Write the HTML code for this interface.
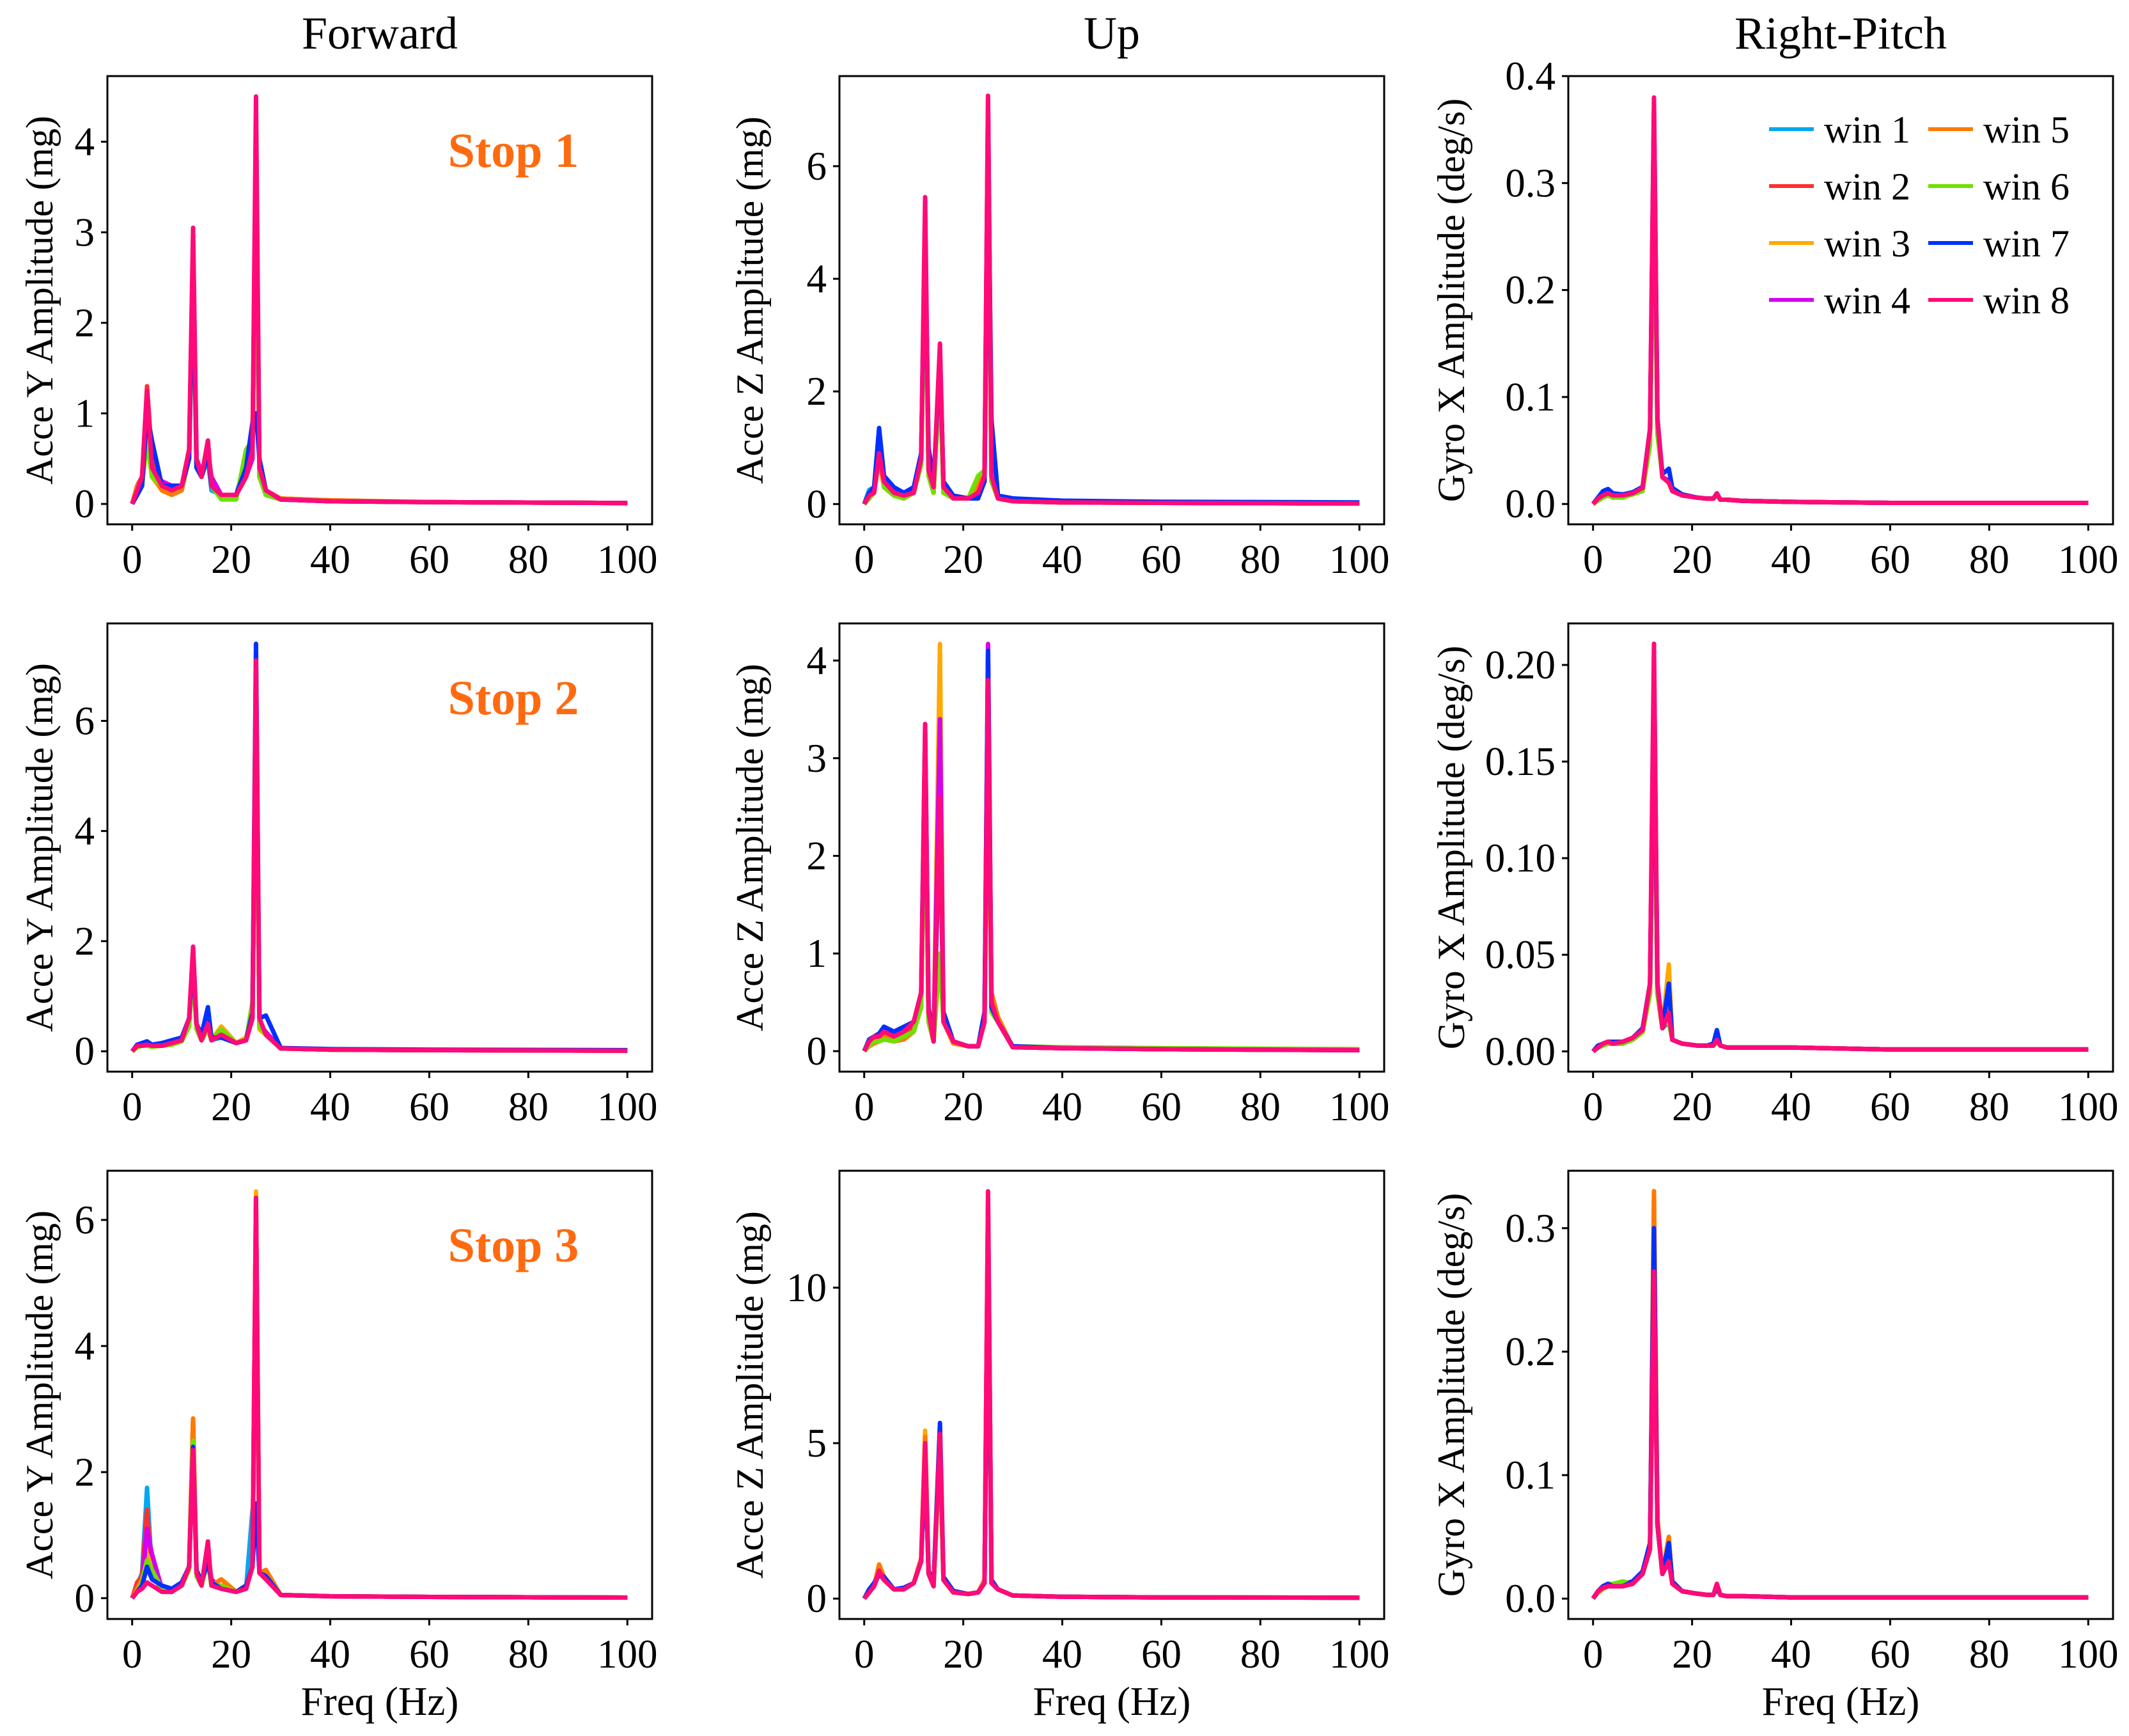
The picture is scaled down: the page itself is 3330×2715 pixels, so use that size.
<!DOCTYPE html>
<html><head><meta charset="utf-8"><style>
html,body{margin:0;padding:0;background:#fff}
svg{display:block}
text{font-family:"Liberation Serif",serif;fill:#000}
</style></head><body>
<svg id="chart" width="3330" height="2715" viewBox="0 0 3330 2715"></svg>
<script>
const freqs=[0,1,2,3,4,6,8,10,11.5,12.3,13,14,15.3,16,18,21,23,24.3,25,25.7,27,30,40,60,100];
const winLabels=["win 1","win 2","win 3","win 4","win 5","win 6","win 7","win 8"];
const winColors=["#00a8f0","#ff3030","#ffa800","#d400f0","#ff7a00","#70e000","#0030ff","#ff0a78"];
const colTitles=["Forward","Up","Right-Pitch"];
const stopLabels=["Stop 1","Stop 2","Stop 3"];
const xTicks=[0,20,40,60,80,100];
const yTicksA=[0,1,2,3,4];
const yTicksB=[0,2,4,6];
const yTicksC=[0,0.1,0.2,0.3,0.4];
const yTicksC_lbl=["0.0","0.1","0.2","0.3","0.4"];
const yTicksE=[0,1,2,3,4];
const yTicksF=[0,0.05,0.1,0.15,0.2];
const yTicksF_lbl=["0.00","0.05","0.10","0.15","0.20"];
const yTicksH=[0,5,10];
const yTicksI=[0,0.1,0.2,0.3];
const yTicksI_lbl=["0.0","0.1","0.2","0.3"];
// Panel A: Forward stop 1
const A1=[0,0.1,0.25,1.1,0.5,0.15,0.2,0.2,0.5,2.5,0.4,0.3,0.5,0.15,0.1,0.1,0.5,0.7,3.2,0.3,0.1,0.05,0.03,0.02,0.01];
const A2=[0,0.2,0.3,1.3,0.5,0.2,0.15,0.2,0.6,2.8,0.4,0.3,0.6,0.2,0.1,0.1,0.3,0.6,4.0,0.3,0.1,0.05,0.03,0.02,0.01];
const A3=[0,0.15,0.2,0.8,0.3,0.15,0.1,0.2,0.5,2.6,0.4,0.3,0.65,0.2,0.1,0.1,0.4,0.6,3.8,0.3,0.15,0.06,0.04,0.02,0.01];
const A4=[0,0.1,0.2,0.9,0.4,0.25,0.2,0.2,0.5,2.9,0.5,0.35,0.6,0.3,0.1,0.1,0.3,0.5,4.2,0.3,0.1,0.05,0.03,0.02,0.01];
const A5=[0,0.2,0.25,0.9,0.35,0.15,0.1,0.15,0.5,2.7,0.4,0.3,0.6,0.2,0.1,0.1,0.3,0.6,3.9,0.3,0.1,0.06,0.04,0.02,0.01];
const A6=[0,0.15,0.2,0.7,0.3,0.2,0.15,0.2,0.5,2.6,0.4,0.3,0.7,0.2,0.05,0.05,0.6,0.7,3.6,0.3,0.1,0.05,0.03,0.02,0.01];
const A7=[0,0.1,0.2,1.0,0.7,0.2,0.2,0.2,0.5,2.7,0.4,0.3,0.55,0.2,0.1,0.1,0.4,0.9,1.0,0.5,0.15,0.05,0.03,0.02,0.01];
const A8=[0,0.15,0.3,1.25,0.4,0.2,0.15,0.2,0.6,3.05,0.5,0.3,0.7,0.2,0.1,0.1,0.3,0.6,4.5,0.4,0.15,0.05,0.03,0.02,0.01];
// Panel B: Up stop 1
const B1=[0,0.25,0.3,1.1,0.4,0.2,0.2,0.25,0.8,4.5,0.7,0.3,2.5,0.3,0.1,0.1,0.2,0.4,6.0,0.5,0.1,0.06,0.04,0.02,0.02];
const B2=[0,0.15,0.2,1.0,0.4,0.2,0.15,0.2,0.8,5.0,0.6,0.3,2.7,0.3,0.1,0.1,0.2,0.5,6.8,0.5,0.1,0.05,0.03,0.02,0.01];
const B3=[0,0.1,0.2,1.2,0.3,0.15,0.1,0.2,0.7,4.7,0.5,0.2,2.4,0.2,0.1,0.1,0.3,0.5,6.6,0.4,0.1,0.05,0.03,0.02,0.01];
const B4=[0,0.15,0.2,0.9,0.4,0.2,0.2,0.2,0.8,5.1,0.6,0.3,2.6,0.3,0.1,0.1,0.2,0.5,7.2,0.5,0.1,0.05,0.03,0.02,0.01];
const B5=[0,0.1,0.2,0.8,0.3,0.15,0.1,0.2,0.7,4.6,0.5,0.2,2.3,0.2,0.1,0.1,0.3,0.6,6.4,0.4,0.1,0.05,0.03,0.02,0.01];
const B6=[0,0.1,0.2,1.2,0.3,0.15,0.1,0.2,0.7,4.4,0.5,0.2,2.2,0.2,0.1,0.1,0.5,0.6,6.2,0.4,0.1,0.05,0.03,0.02,0.01];
const B7=[0,0.2,0.3,1.35,0.5,0.3,0.2,0.3,0.9,4.8,1.0,0.4,2.6,0.4,0.15,0.1,0.1,0.4,6.5,1.5,0.15,0.1,0.06,0.04,0.03];
const B8=[0,0.15,0.2,0.9,0.4,0.2,0.15,0.2,0.8,5.45,0.6,0.3,2.85,0.3,0.1,0.1,0.2,0.5,7.25,0.5,0.1,0.05,0.03,0.02,0.01];
// Panel C: Right-Pitch stop 1
const C1=[0,0.006,0.01,0.012,0.008,0.008,0.01,0.015,0.06,0.33,0.07,0.025,0.02,0.012,0.008,0.006,0.005,0.005,0.008,0.004,0.004,0.003,0.002,0.001,0.001];
const C2=[0,0.005,0.008,0.01,0.007,0.008,0.01,0.014,0.065,0.35,0.07,0.025,0.022,0.012,0.008,0.006,0.005,0.005,0.009,0.004,0.004,0.003,0.002,0.001,0.001];
const C3=[0,0.004,0.006,0.008,0.007,0.007,0.009,0.013,0.06,0.32,0.075,0.025,0.02,0.012,0.008,0.006,0.005,0.005,0.008,0.004,0.004,0.003,0.002,0.001,0.001];
const C4=[0,0.005,0.008,0.01,0.008,0.008,0.01,0.015,0.07,0.36,0.08,0.025,0.022,0.012,0.008,0.006,0.005,0.005,0.01,0.004,0.004,0.003,0.002,0.001,0.001];
const C5=[0,0.004,0.007,0.009,0.007,0.007,0.009,0.013,0.06,0.34,0.07,0.025,0.02,0.012,0.008,0.006,0.005,0.005,0.008,0.004,0.004,0.003,0.002,0.001,0.001];
const C6=[0,0.003,0.006,0.008,0.006,0.006,0.009,0.012,0.055,0.31,0.065,0.025,0.02,0.012,0.008,0.006,0.005,0.005,0.008,0.004,0.004,0.003,0.002,0.001,0.001];
const C7=[0,0.006,0.012,0.014,0.01,0.009,0.011,0.016,0.07,0.37,0.08,0.028,0.033,0.015,0.009,0.006,0.005,0.005,0.01,0.004,0.004,0.003,0.002,0.001,0.001];
const C8=[0,0.005,0.008,0.01,0.008,0.008,0.01,0.015,0.07,0.38,0.08,0.025,0.02,0.012,0.008,0.006,0.005,0.005,0.01,0.004,0.004,0.003,0.002,0.001,0.001];
// Panel D: Forward stop 2
const D1=[0,0.1,0.12,0.15,0.1,0.12,0.15,0.2,0.5,1.6,0.4,0.25,0.5,0.2,0.25,0.15,0.2,0.8,6.0,0.5,0.3,0.05,0.03,0.02,0.01];
const D2=[0,0.08,0.1,0.12,0.1,0.1,0.12,0.2,0.5,1.7,0.4,0.2,0.45,0.2,0.3,0.15,0.2,0.6,6.5,0.5,0.3,0.05,0.03,0.02,0.01];
const D3=[0,0.1,0.15,0.15,0.12,0.12,0.15,0.2,0.5,1.5,0.4,0.2,0.4,0.2,0.45,0.15,0.25,0.7,6.3,0.4,0.3,0.05,0.03,0.02,0.01];
const D4=[0,0.1,0.12,0.12,0.1,0.1,0.15,0.2,0.55,1.8,0.45,0.2,0.5,0.2,0.3,0.15,0.2,0.6,6.8,0.5,0.35,0.05,0.03,0.02,0.01];
const D5=[0,0.08,0.1,0.1,0.1,0.1,0.12,0.18,0.5,1.6,0.4,0.2,0.45,0.2,0.35,0.15,0.2,0.6,6.2,0.45,0.3,0.05,0.03,0.02,0.01];
const D6=[0,0.07,0.1,0.1,0.08,0.1,0.12,0.18,0.45,1.5,0.4,0.2,0.4,0.2,0.4,0.15,0.2,0.9,6.0,0.45,0.3,0.05,0.03,0.02,0.01];
const D7=[0,0.12,0.15,0.18,0.12,0.15,0.2,0.25,0.6,1.7,0.5,0.3,0.8,0.25,0.25,0.15,0.2,0.7,7.4,0.6,0.65,0.06,0.04,0.03,0.02];
const D8=[0,0.1,0.1,0.12,0.1,0.1,0.15,0.2,0.6,1.9,0.5,0.2,0.5,0.2,0.3,0.15,0.2,0.6,7.1,0.6,0.3,0.05,0.03,0.02,0.01];
// Panel E: Up stop 2
const E1=[0,0.1,0.12,0.15,0.15,0.12,0.15,0.25,0.5,3.0,0.35,0.1,2.4,0.3,0.1,0.05,0.05,0.3,3.6,0.4,0.3,0.04,0.03,0.02,0.01];
const E2=[0,0.08,0.12,0.12,0.15,0.12,0.15,0.25,0.5,3.1,0.35,0.1,2.8,0.3,0.1,0.05,0.05,0.3,3.7,0.45,0.3,0.04,0.03,0.02,0.01];
const E3=[0,0.05,0.1,0.1,0.12,0.1,0.12,0.2,0.45,2.8,0.3,0.1,4.17,0.3,0.08,0.05,0.05,0.3,3.5,0.4,0.3,0.04,0.03,0.02,0.01];
const E4=[0,0.1,0.15,0.15,0.2,0.15,0.2,0.3,0.55,3.2,0.4,0.1,3.4,0.3,0.1,0.05,0.05,0.3,4.17,0.5,0.3,0.04,0.03,0.02,0.01];
const E5=[0,0.05,0.08,0.1,0.15,0.1,0.12,0.2,0.45,2.9,0.3,0.1,1.0,0.3,0.08,0.05,0.05,0.3,3.4,0.6,0.35,0.04,0.03,0.02,0.01];
const E6=[0,0.06,0.1,0.1,0.12,0.1,0.15,0.2,0.45,2.9,0.3,0.1,1.0,0.3,0.1,0.05,0.05,0.3,3.5,0.4,0.3,0.05,0.04,0.03,0.02];
const E7=[0,0.12,0.15,0.18,0.25,0.2,0.25,0.3,0.6,3.3,0.45,0.1,2.5,0.4,0.1,0.05,0.05,0.4,4.1,0.45,0.3,0.05,0.03,0.02,0.01];
const E8=[0,0.1,0.15,0.15,0.2,0.15,0.2,0.3,0.6,3.35,0.4,0.1,2.6,0.3,0.1,0.05,0.05,0.3,3.8,0.5,0.3,0.04,0.03,0.02,0.01];
// Panel F: Right-Pitch stop 2
const F1=[0,0.002,0.003,0.004,0.004,0.004,0.006,0.01,0.03,0.17,0.03,0.012,0.015,0.006,0.004,0.003,0.003,0.003,0.005,0.003,0.002,0.002,0.002,0.001,0.001];
const F2=[0,0.002,0.003,0.004,0.004,0.004,0.006,0.01,0.035,0.19,0.035,0.012,0.018,0.006,0.004,0.003,0.003,0.003,0.005,0.003,0.002,0.002,0.002,0.001,0.001];
const F3=[0,0.002,0.003,0.004,0.004,0.004,0.006,0.01,0.03,0.18,0.03,0.012,0.045,0.006,0.004,0.003,0.003,0.003,0.005,0.003,0.002,0.002,0.002,0.001,0.001];
const F4=[0,0.002,0.004,0.005,0.004,0.005,0.007,0.011,0.035,0.2,0.035,0.012,0.02,0.006,0.004,0.003,0.003,0.003,0.006,0.003,0.002,0.002,0.002,0.001,0.001];
const F5=[0,0.002,0.003,0.004,0.004,0.004,0.006,0.01,0.03,0.18,0.03,0.012,0.025,0.006,0.004,0.003,0.003,0.003,0.005,0.003,0.002,0.002,0.002,0.001,0.001];
const F6=[0,0.002,0.003,0.004,0.004,0.004,0.006,0.01,0.03,0.17,0.03,0.015,0.015,0.006,0.004,0.003,0.003,0.003,0.005,0.003,0.002,0.002,0.002,0.001,0.001];
const F7=[0,0.003,0.004,0.005,0.005,0.005,0.007,0.012,0.035,0.19,0.035,0.012,0.035,0.006,0.004,0.003,0.003,0.004,0.011,0.003,0.002,0.002,0.002,0.001,0.001];
const F8=[0,0.002,0.004,0.005,0.004,0.005,0.007,0.011,0.035,0.211,0.035,0.012,0.02,0.006,0.004,0.003,0.003,0.003,0.006,0.003,0.002,0.002,0.002,0.001,0.001];
// Panel G: Forward stop 3
const G1=[0,0.2,0.4,1.75,0.4,0.15,0.15,0.2,0.5,2.4,0.4,0.2,0.6,0.2,0.15,0.1,0.15,1.4,1.5,0.4,0.3,0.05,0.03,0.02,0.01];
const G2=[0,0.25,0.35,1.4,0.4,0.15,0.12,0.2,0.5,2.85,0.4,0.2,0.7,0.2,0.2,0.1,0.15,0.5,6.0,0.4,0.4,0.05,0.03,0.02,0.01];
const G3=[0,0.15,0.3,0.7,0.45,0.15,0.12,0.2,0.45,2.6,0.35,0.2,0.6,0.2,0.3,0.1,0.2,0.5,6.45,0.4,0.35,0.05,0.03,0.02,0.01];
const G4=[0,0.1,0.2,1.1,0.7,0.15,0.12,0.2,0.5,2.5,0.4,0.2,0.7,0.3,0.15,0.1,0.15,0.5,6.2,0.4,0.3,0.05,0.03,0.02,0.01];
const G5=[0,0.15,0.3,0.6,0.4,0.12,0.1,0.2,0.5,2.85,0.4,0.2,0.7,0.2,0.3,0.1,0.15,0.5,6.3,0.4,0.45,0.05,0.03,0.02,0.01];
const G6=[0,0.1,0.25,0.6,0.45,0.15,0.12,0.2,0.45,2.5,0.35,0.2,0.6,0.2,0.2,0.1,0.15,0.5,6.0,0.4,0.3,0.05,0.03,0.02,0.01];
const G7=[0,0.1,0.2,0.5,0.3,0.2,0.15,0.25,0.5,2.4,0.45,0.25,0.6,0.25,0.15,0.1,0.2,0.5,1.5,0.4,0.35,0.05,0.03,0.02,0.01];
const G8=[0,0.1,0.15,0.25,0.2,0.1,0.1,0.2,0.5,2.35,0.4,0.2,0.9,0.2,0.15,0.1,0.15,0.5,6.35,0.4,0.3,0.05,0.03,0.02,0.01];
// Panel H: Up stop 3
const H1=[0,0.3,0.5,0.8,0.6,0.3,0.3,0.5,1.2,4.5,0.8,0.4,5.0,0.6,0.2,0.15,0.2,0.5,11.5,0.5,0.3,0.1,0.06,0.04,0.03];
const H2=[0,0.2,0.4,0.9,0.6,0.3,0.3,0.5,1.2,4.8,0.8,0.4,5.0,0.6,0.2,0.15,0.2,0.5,12.0,0.5,0.3,0.1,0.06,0.04,0.03];
const H3=[0,0.2,0.4,1.0,0.7,0.3,0.3,0.5,1.2,5.4,0.8,0.4,4.8,0.6,0.2,0.15,0.2,0.6,12.5,0.6,0.3,0.1,0.06,0.04,0.03];
const H4=[0,0.2,0.4,0.8,0.6,0.3,0.3,0.5,1.2,4.7,0.8,0.4,5.2,0.6,0.2,0.15,0.2,0.5,12.6,0.5,0.3,0.1,0.06,0.04,0.03];
const H5=[0,0.2,0.4,1.1,0.7,0.3,0.3,0.5,1.3,5.2,0.9,0.4,4.9,0.6,0.2,0.15,0.2,0.6,12.8,0.6,0.3,0.1,0.06,0.04,0.03];
const H6=[0,0.2,0.4,0.9,0.6,0.3,0.3,0.5,1.2,5.0,0.8,0.4,4.8,0.6,0.2,0.15,0.2,0.5,12.2,0.5,0.3,0.1,0.06,0.04,0.03];
const H7=[0,0.3,0.5,0.8,0.7,0.3,0.35,0.5,1.2,4.4,0.9,0.5,5.65,0.7,0.25,0.15,0.2,0.5,11.8,0.6,0.3,0.1,0.06,0.04,0.03];
const H8=[0,0.2,0.4,0.9,0.6,0.3,0.3,0.5,1.2,5.0,0.8,0.4,5.3,0.6,0.2,0.15,0.2,0.5,13.1,0.5,0.3,0.1,0.06,0.04,0.03];
// Panel I: Right-Pitch stop 3
const I1=[0,0.006,0.01,0.012,0.01,0.01,0.012,0.02,0.04,0.3,0.06,0.02,0.03,0.012,0.006,0.004,0.003,0.003,0.008,0.003,0.002,0.002,0.001,0.001,0.001];
const I2=[0,0.006,0.009,0.01,0.01,0.01,0.012,0.02,0.04,0.31,0.06,0.02,0.035,0.012,0.006,0.004,0.003,0.003,0.008,0.003,0.002,0.002,0.001,0.001,0.001];
const I3=[0,0.005,0.008,0.01,0.01,0.01,0.012,0.02,0.04,0.29,0.06,0.02,0.05,0.012,0.006,0.004,0.003,0.003,0.008,0.003,0.002,0.002,0.001,0.001,0.001];
const I4=[0,0.006,0.01,0.012,0.01,0.012,0.014,0.022,0.045,0.3,0.06,0.02,0.035,0.012,0.006,0.004,0.003,0.003,0.009,0.003,0.002,0.002,0.001,0.001,0.001];
const I5=[0,0.005,0.008,0.01,0.01,0.01,0.012,0.02,0.04,0.33,0.065,0.02,0.05,0.012,0.006,0.004,0.003,0.003,0.008,0.003,0.002,0.002,0.001,0.001,0.001];
const I6=[0,0.006,0.01,0.012,0.012,0.014,0.012,0.02,0.04,0.275,0.06,0.02,0.035,0.012,0.006,0.004,0.003,0.003,0.008,0.003,0.002,0.002,0.001,0.001,0.001];
const I7=[0,0.006,0.01,0.012,0.01,0.01,0.014,0.022,0.045,0.3,0.06,0.02,0.045,0.014,0.006,0.004,0.003,0.003,0.009,0.003,0.002,0.002,0.001,0.001,0.001];
const I8=[0,0.006,0.009,0.01,0.01,0.01,0.012,0.02,0.04,0.265,0.06,0.02,0.03,0.012,0.006,0.004,0.003,0.003,0.012,0.003,0.002,0.002,0.001,0.001,0.001];

const panelSeries=[[A1,A2,A3,A4,A5,A6,A7,A8],[B1,B2,B3,B4,B5,B6,B7,B8],[C1,C2,C3,C4,C5,C6,C7,C8],
 [D1,D2,D3,D4,D5,D6,D7,D8],[E1,E2,E3,E4,E5,E6,E7,E8],[F1,F2,F3,F4,F5,F6,F7,F8],
 [G1,G2,G3,G4,G5,G6,G7,G8],[H1,H2,H3,H4,H5,H6,H7,H8],[I1,I2,I3,I4,I5,I6,I7,I8]];
const panelYTicks=[yTicksA,yTicksB,yTicksC,yTicksB,yTicksE,yTicksF,yTicksB,yTicksH,yTicksI];
const panelYLabels=[null,null,yTicksC_lbl,null,null,yTicksF_lbl,null,null,yTicksI_lbl];
const panelYMax=[4.725,7.6,0.40,7.77,4.38,0.2215,6.78,13.76,0.3465];
const panelYMin=[-0.225,-0.36,-0.019,-0.37,-0.21,-0.0105,-0.33,-0.655,-0.0165];
const yTitles=["Acce Y Amplitude (mg)","Acce Z Amplitude (mg)","Gyro X Amplitude (deg/s)"];

const NS="http://www.w3.org/2000/svg";
const svg=document.getElementById('chart');
function mk(tag,attrs,parent){const e=document.createElementNS(NS,tag);for(const k in attrs)e.setAttribute(k,attrs[k]);(parent||svg).appendChild(e);return e;}
const colL=[168,1313,2453], rowT=[119,975,1831], PW=852, PH=701;
const ytitleX=[62,1173,2270];

colTitles.forEach((t,c)=>{
  const e=mk('text',{x:colL[c]+PW/2,y:76,'text-anchor':'middle','font-size':72});
  e.textContent=t;
  
  
});

for(let r=0;r<3;r++)for(let c=0;c<3;c++){
  const p=r*3+c, L=colL[c], T=rowT[r];
  const ymin=panelYMin[p], ymax=panelYMax[p];
  const sx=v=>L+(v+5)/110*PW;
  const sy=v=>T+PH-(v-ymin)/(ymax-ymin)*PH;
  const g=mk('g',{});
  
  
  const clipId='clip'+p;
  const cp=mk('clipPath',{id:clipId},g);mk('rect',{x:L,y:T,width:PW,height:PH},cp);
  const lines=mk('g',{'clip-path':'url(#'+clipId+')'},g);
  panelSeries[p].forEach((s,i)=>{
    const d=s.map((v,k)=>(k?'L':'M')+sx(freqs[k]).toFixed(1)+','+sy(v).toFixed(1)).join('');
    const pl=mk('path',{d:d,fill:'none',stroke:winColors[i],'stroke-width':7,'stroke-linejoin':'round'},lines);
    
    
  });
  const fr=mk('rect',{x:L,y:T,width:PW,height:PH,fill:'none',stroke:'#000','stroke-width':3},g);
  
  
  xTicks.forEach(v=>{
    mk('line',{x1:sx(v),x2:sx(v),y1:T+PH,y2:T+PH+10,stroke:'#000','stroke-width':3},g);
    const t=mk('text',{x:sx(v),y:T+PH+76,'text-anchor':'middle','font-size':63},g);
    t.textContent=v;
    
    
  });
  panelYTicks[p].forEach((v,k)=>{
    mk('line',{x1:L-10,x2:L,y1:sy(v),y2:sy(v),stroke:'#000','stroke-width':3},g);
    const t=mk('text',{x:L-20,y:sy(v)+21,'text-anchor':'end','font-size':63},g);
    t.textContent=panelYLabels[p]?panelYLabels[p][k]:v;
    
    
  });
  const yt=mk('text',{x:ytitleX[c],y:T+PH/2,'text-anchor':'middle','font-size':60,'dominant-baseline':'central',transform:'rotate(-90 '+ytitleX[c]+' '+(T+PH/2)+')'},g);
  yt.textContent=yTitles[c];
  
  
  if(r===2){
    const xt=mk('text',{x:L+PW/2,y:2682,'text-anchor':'middle','font-size':63},g);
    xt.textContent='Freq (Hz)';
    
    
  }
  if(c===0){
    const st=mk('text',{x:803,y:T+142,'text-anchor':'middle','font-size':76,'font-weight':'bold',style:'fill:#ff6a10'},g);
    st.textContent=stopLabels[r];
    
    
  }
}
// legend
const lg=mk('g',{});


winLabels.forEach((lab,i)=>{
  const col=Math.floor(i/4), row=i%4;
  const lx=[2767,3016][col], y=202+row*89;
  const e=mk('g',{},lg);
  
  
  mk('line',{x1:lx,x2:lx+70,y1:y,y2:y,stroke:winColors[i],'stroke-width':6},e);
  const t=mk('text',{x:lx+86,y:y+21,'font-size':60},e);
  t.textContent=lab;
});
</script>
</body></html>
